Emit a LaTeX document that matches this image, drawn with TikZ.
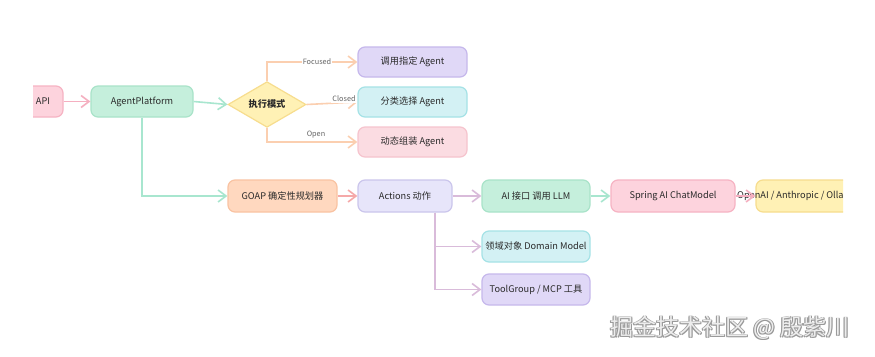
\documentclass[tikz,border=0pt]{standalone}
\usepackage{fontspec}
\setmainfont{Noto Sans CJK SC}
\usetikzlibrary{arrows.meta,shapes.geometric,positioning}
\definecolor{txt}{HTML}{2A2A2A}
\definecolor{pinkF}{HTML}{FDD3DD}\definecolor{pinkD}{HTML}{F6B3C3}
\definecolor{mintF}{HTML}{C5EFDC}\definecolor{mintD}{HTML}{A9E3C9}
\definecolor{yelF}{HTML}{FFF1B5}\definecolor{yelD}{HTML}{F7DD8E}
\definecolor{lavF}{HTML}{E0D8F7}\definecolor{lavD}{HTML}{C6B8EC}
\definecolor{cyaF}{HTML}{D3F1F4}\definecolor{cyaD}{HTML}{A5E2E6}
\definecolor{rosF}{HTML}{FBDCE2}\definecolor{rosD}{HTML}{F6C4CE}
\definecolor{pchF}{HTML}{FFD8BF}\definecolor{pchD}{HTML}{F9C3A2}
\definecolor{actF}{HTML}{E7E5FA}\definecolor{actD}{HTML}{CBC6EC}
\definecolor{ePink}{HTML}{F5AFC0}\definecolor{eMint}{HTML}{A8E6CF}
\definecolor{ePeach}{HTML}{FBCFB0}\definecolor{eSalm}{HTML}{F5A9A9}
\definecolor{eMauve}{HTML}{D9BBDA}
\definecolor{lbl}{HTML}{666666}
\begin{document}
\begin{tikzpicture}[x=1pt,y=-1pt,
  box/.style={draw, line width=1.2pt, rounded corners=7pt, inner sep=1pt,
    font=\fontsize{9.2}{11}\selectfont, text=txt},
  conn/.style={line width=1.6pt, -{Straight Barb[length=8pt,width=12pt,line width=1.6pt]}},
  elbl/.style={font=\fontsize{7.3}{8}\selectfont, text=lbl, inner sep=1pt},
]
\useasboundingbox (0,0) rectangle (875,356);
\fill[white] (0,0) rectangle (875,356);

% clipped side boxes
\begin{scope}
\clip (33,0) rectangle (843,356);
\node[box, fill=pinkF, draw=pinkD, minimum width=40pt, minimum height=31pt] (api) at (43,101.5) {API};
\node[box, fill=yelF, draw=yelD, minimum width=104pt, minimum height=32pt] (oai) at (808,196) {};
\node[font=\fontsize{9.2}{11}\selectfont, text=txt, anchor=west, inner sep=0pt] (oait) at (737,196) {OpenAI / Anthropic / Ollama};
\end{scope}

\node[box, fill=mintF, draw=mintD, minimum width=102pt, minimum height=31pt] (ap) at (142,101.5) {AgentPlatform};
\node[diamond, draw=yelD, fill=yelF, line width=1.2pt, minimum width=78pt, minimum height=35pt, inner sep=0pt, font=\fontsize{9.2}{11}\selectfont\bfseries, text=txt] (dia) at (267,104.5) {执行模式};
\node[box, fill=lavF, draw=lavD, minimum width=109pt, minimum height=30pt] (ag1) at (412.5,62) {调用指定 Agent};
\node[box, fill=cyaF, draw=cyaD, minimum width=109pt, minimum height=30pt] (ag2) at (412.5,102) {分类选择 Agent};
\node[box, fill=rosF, draw=rosD, minimum width=109pt, minimum height=30pt] (ag3) at (412.5,142) {动态组装 Agent};

\node[box, fill=pchF, draw=pchD, minimum width=109pt, minimum height=32pt] (goap) at (282.5,196) {GOAP 确定性规划器};
\node[box, fill=actF, draw=actD, minimum width=94pt, minimum height=32pt] (act) at (405,196) {Actions 动作};
\node[box, fill=mintF, draw=mintD, minimum width=108pt, minimum height=32pt] (ai) at (536,196) {AI 接口 调用 LLM};
\node[box, fill=cyaF, draw=cyaD, minimum width=108pt, minimum height=31pt] (dom) at (536,246.5) {领域对象 Domain Model};
\node[box, fill=lavF, draw=lavD, minimum width=108pt, minimum height=31pt] (tool) at (536,289.5) {ToolGroup / MCP 工具};
\node[box, fill=pinkF, draw=pinkD, minimum width=124pt, minimum height=32pt] (spring) at (673,196) {Spring AI ChatModel};

% connectors
\draw[conn, ePink] (api) -- (ap);
\draw[conn, eMint] (ap.east) -- (dia.west);
\draw[conn, ePeach] (dia.north) |- (ag1.west);
\node[elbl, fill=white] (lfocused) at (317,62) {Focused};
\draw[conn, ePeach] (dia.east) -- (ag2.west);
\node[elbl, fill=white] (lclosed) at (344,99) {Closed};
\draw[conn, ePeach] (dia.south) |- (ag3.west);
\node[elbl] (lopen) at (316,135) {Open};
\draw[conn, eMint] (ap.south) |- (goap.west);
\draw[conn, eSalm] (goap) -- (act);
\draw[conn, eMauve] (act) -- (ai);
\coordinate (actb) at ([xshift=30pt]act.south);
\draw[conn, eMauve] (actb) |- (dom.west);
\draw[conn, eMauve] (actb) |- (tool.west);
\draw[conn, eMint] (ai) -- (spring);
\draw[conn, ePink] (spring.east) -- (oai.west);

% watermark
\foreach \dx/\dy in {0.7/0.7,-0.7/0.7,0.7/-0.7,-0.7/-0.7}
  \node[font=\fontsize{23}{26}\selectfont, text=gray!80] at ([xshift=\dx pt, yshift=\dy pt]730,328) {掘金技术社区 @ 殷紫川};
\node[font=\fontsize{23}{26}\selectfont, text=white!93!black] (wm) at (730,328) {掘金技术社区 @ 殷紫川};
\end{tikzpicture}
\end{document}
